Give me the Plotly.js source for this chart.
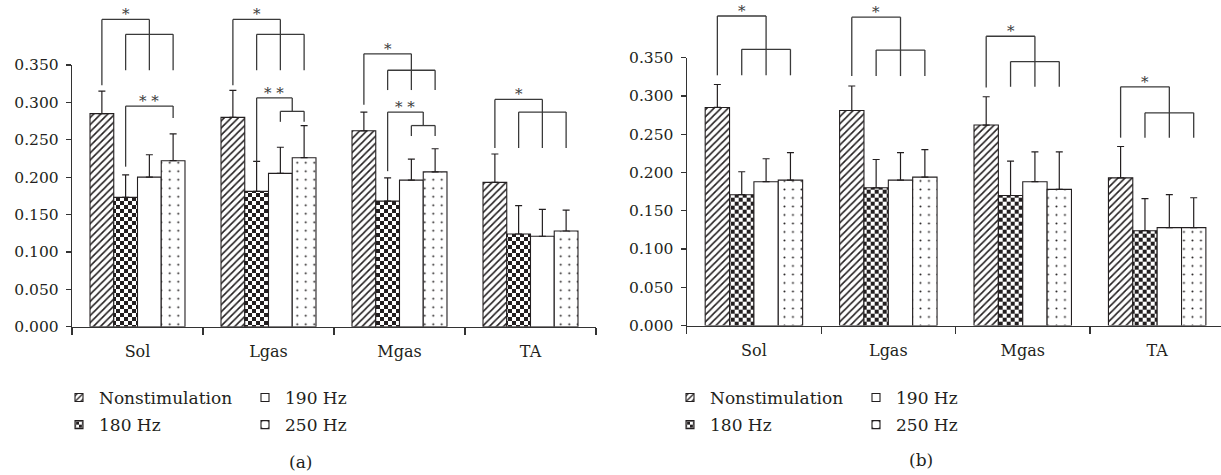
<!DOCTYPE html>
<html>
<head>
<meta charset="utf-8">
<script src="https://cdn.plot.ly/plotly-3.0.1.min.js"></script>
<style>
html,body{margin:0;padding:0;background:#fff;}
#chart{width:1221px;height:475px;}
</style>
</head>
<body>
<div id="chart"></div>
<script>
// ---------- data ----------
const categories = ['Sol', 'Lgas', 'Mgas', 'TA'];
const seriesNames = ['Nonstimulation', '180 Hz', '190 Hz', '250 Hz'];
const yTickVals = [0, 0.05, 0.10, 0.15, 0.20, 0.25, 0.30, 0.35];
const panelLabels = ['(a)', '(b)'];

// panel (a)
const aNonstim = [0.285, 0.280, 0.262, 0.193];
const aNonstimErr = [0.030, 0.036, 0.025, 0.038];
const a180 = [0.173, 0.181, 0.168, 0.124];
const a180Err = [0.030, 0.040, 0.031, 0.038];
const a190 = [0.200, 0.205, 0.196, 0.121];
const a190Err = [0.030, 0.035, 0.028, 0.036];
const a250 = [0.222, 0.226, 0.207, 0.128];
const a250Err = [0.036, 0.043, 0.031, 0.028];

// panel (b)
const bNonstim = [0.285, 0.281, 0.262, 0.193];
const bNonstimErr = [0.030, 0.032, 0.037, 0.041];
const b180 = [0.171, 0.180, 0.170, 0.124];
const b180Err = [0.030, 0.037, 0.045, 0.042];
const b190 = [0.188, 0.190, 0.188, 0.128];
const b190Err = [0.030, 0.036, 0.039, 0.043];
const b250 = [0.190, 0.194, 0.178, 0.128];
const b250Err = [0.036, 0.036, 0.049, 0.039];

// significance brackets (levels in data units)
const aBrackets = [
  {cat: 0, kind: 'oneVsRest', top: 0.411, leg0: 0.323, mid: 0.391, low: 0.343, label: '*'},
  {cat: 0, kind: 'pair', top: 0.295, low1: 0.214, low3: 0.279, label: '* *'},
  {cat: 1, kind: 'oneVsRest', top: 0.411, leg0: 0.323, mid: 0.391, low: 0.343, label: '*'},
  {cat: 1, kind: 'nested', top: 0.306, low1: 0.221, top2: 0.288, low2: 0.274, label: '* *'},
  {cat: 2, kind: 'oneVsRest', top: 0.365, leg0: 0.297, mid: 0.343, low: 0.3165, label: '*'},
  {cat: 2, kind: 'nested', top: 0.287, low1: 0.208, top2: 0.269, low2: 0.255, label: '* *'},
  {cat: 3, kind: 'oneVsRest', top: 0.304, leg0: 0.239, mid: 0.287, low: 0.239, label: '*'}
];
const bBrackets = [
  {cat: 0, kind: 'oneVsRest', top: 0.4045, leg0: 0.327, mid: 0.361, low: 0.327, label: '*'},
  {cat: 1, kind: 'oneVsRest', top: 0.403, leg0: 0.326, mid: 0.360, low: 0.326, label: '*'},
  {cat: 2, kind: 'oneVsRest', top: 0.378, leg0: 0.311, mid: 0.345, low: 0.312, label: '*'},
  {cat: 3, kind: 'oneVsRest', top: 0.312, leg0: 0.2455, mid: 0.278, low: 0.2455, label: '*'}
];

// ---------- styling / layout ----------
const W = 1221, H = 475;
const FONT = 'DejaVu Serif';
const INK = '#231f20';
const BARGAP = 0.275;

const panels = [
  {xDom: [72 / W, 596 / W], xRange: [-0.5, 3.5], yDom: [1 - 326.7 / H, 1 - 65 / H], yRange: [0, 0.35],
   xa: 'x', ya: 'y', uidTag: 'a'},
  {xDom: [686.7 / W, 1], xRange: [-0.5, 3.475], yDom: [1 - 325.6 / H, 1 - 57.7 / H], yRange: [0, 0.35],
   xa: 'x2', ya: 'y2', uidTag: 'b'}
];

const seriesStyle = [
  {color: '#ffffff', pattern: {shape: '/', size: 5, solidity: 0.32, fgcolor: INK, bgcolor: '#ffffff', fillmode: 'replace'}, tag: 'hat'},
  {color: '#ffffff', pattern: {shape: '+', size: 8, solidity: 0.5, fgcolor: INK, bgcolor: '#ffffff', fillmode: 'replace'}, tag: 'chk'},
  {color: '#ffffff', pattern: null, tag: 'wht'},
  {color: '#ffffff', pattern: {shape: '.', size: 8.5, solidity: 0.045, fgcolor: INK, bgcolor: '#ffffff', fillmode: 'replace'}, tag: 'dot'}
];

const panelData = [
  {vals: [aNonstim, a180, a190, a250], errs: [aNonstimErr, a180Err, a190Err, a250Err], brackets: aBrackets},
  {vals: [bNonstim, b180, b190, b250], errs: [bNonstimErr, b180Err, b190Err, b250Err], brackets: bBrackets}
];

const legendIds = [['legend', 'legend', 'legend2', 'legend2'], ['legend3', 'legend3', 'legend4', 'legend4']];

const traces = [];
panelData.forEach((pd, p) => {
  pd.vals.forEach((vals, s) => {
    const st = seriesStyle[s];
    const marker = {color: st.color, line: {color: INK, width: 1.1}};
    if (st.pattern) marker.pattern = st.pattern;
    traces.push({
      type: 'bar',
      name: seriesNames[s],
      x: categories,
      y: vals,
      xaxis: panels[p].xa,
      yaxis: panels[p].ya,
      uid: st.tag + panels[p].uidTag,
      marker: marker,
      legend: legendIds[p][s],
      legendgroup: 'g' + p + s,
      error_y: {type: 'data', symmetric: false, array: pd.errs[s], arrayminus: pd.vals[s].map(() => 0),
                color: INK, thickness: 1.2, width: 3.5},
      hoverinfo: 'skip'
    });
  });
});

// helpers to map data coords to paper coords
function barX(panel, cat, bar) {
  const w = (1 - BARGAP) / 4;
  const xv = cat + (bar - 1.5) * w;
  return panel.xDom[0] + (xv - panel.xRange[0]) / (panel.xRange[1] - panel.xRange[0]) * (panel.xDom[1] - panel.xDom[0]);
}
function py(panel, v) {
  return panel.yDom[0] + (v - panel.yRange[0]) / (panel.yRange[1] - panel.yRange[0]) * (panel.yDom[1] - panel.yDom[0]);
}

const shapes = [];
const annotations = [];
function seg(x0, y0, x1, y1) {
  shapes.push({type: 'line', xref: 'paper', yref: 'paper', x0: x0, y0: y0, x1: x1, y1: y1,
               line: {color: '#3a3a3a', width: 1.3}});
}
function star(x, y, text) {
  annotations.push({xref: 'paper', yref: 'paper', x: x, y: y, text: text, showarrow: false,
                    xanchor: 'center', yanchor: 'bottom', yshift: -6,
                    font: {family: FONT, size: 15, color: '#3a3a3a'}});
}

panelData.forEach((pd, p) => {
  const P = panels[p];
  pd.brackets.forEach(b => {
    const x0 = barX(P, b.cat, 0), x1 = barX(P, b.cat, 1), x2 = barX(P, b.cat, 2), x3 = barX(P, b.cat, 3);
    if (b.kind === 'oneVsRest') {
      seg(x0, py(P, b.top), x2, py(P, b.top));
      seg(x0, py(P, b.top), x0, py(P, b.leg0));
      seg(x2, py(P, b.top), x2, py(P, b.low));
      seg(x1, py(P, b.mid), x3, py(P, b.mid));
      seg(x1, py(P, b.mid), x1, py(P, b.low));
      seg(x3, py(P, b.mid), x3, py(P, b.low));
      star((x0 + x2) / 2, py(P, b.top), b.label);
    } else if (b.kind === 'pair') {
      seg(x1, py(P, b.top), x3, py(P, b.top));
      seg(x1, py(P, b.top), x1, py(P, b.low1));
      seg(x3, py(P, b.top), x3, py(P, b.low3));
      star((x1 + x3) / 2, py(P, b.top), b.label);
    } else if (b.kind === 'nested') {
      const xm = (x2 + x3) / 2;
      seg(x1, py(P, b.top), xm, py(P, b.top));
      seg(x1, py(P, b.top), x1, py(P, b.low1));
      seg(xm, py(P, b.top), xm, py(P, b.top2));
      seg(x2, py(P, b.top2), x3, py(P, b.top2));
      seg(x2, py(P, b.top2), x2, py(P, b.low2));
      seg(x3, py(P, b.top2), x3, py(P, b.low2));
      star((x1 + xm) / 2, py(P, b.top), b.label);
    }
  });
});

// panel labels
annotations.push({xref: 'paper', yref: 'paper', x: 300 / W, y: 1 - 461.5 / H, text: panelLabels[0], showarrow: false,
                  xanchor: 'center', yanchor: 'middle', font: {family: FONT, size: 17, color: INK}});
annotations.push({xref: 'paper', yref: 'paper', x: 921 / W, y: 1 - 460 / H, text: panelLabels[1], showarrow: false,
                  xanchor: 'center', yanchor: 'middle', font: {family: FONT, size: 17, color: INK}});

function xAxis(P, anchor) {
  return {domain: P.xDom, range: P.xRange, anchor: anchor, type: 'category', tickson: 'boundaries',
          ticks: 'outside', ticklen: 7, tickwidth: 1.2, tickcolor: '#333', showline: true, linecolor: '#333', linewidth: 1.2,
          showgrid: false, zeroline: false, fixedrange: true,
          tickfont: {family: FONT, size: 16, color: INK}, ticklabelstandoff: 10};
}
function yAxis(P, anchor) {
  return {domain: P.yDom, range: P.yRange, anchor: anchor, tickvals: yTickVals, tickformat: '.3f',
          ticks: 'outside', ticklen: 5, tickwidth: 1.2, tickcolor: '#333', showline: true, linecolor: '#333', linewidth: 1.2,
          showgrid: false, zeroline: false, fixedrange: true,
          tickfont: {family: FONT, size: 15.5, color: INK}, ticklabelstandoff: 4};
}
function legendAt(xpx, ypx) {
  return {x: xpx / W, y: 1 - ypx / H, xanchor: 'left', yanchor: 'top', orientation: 'v',
          font: {family: FONT, size: 17, color: INK}, bgcolor: 'rgba(0,0,0,0)', borderwidth: 0,
          tracegroupgap: 2, itemwidth: 30, traceorder: 'grouped', itemclick: false, itemdoubleclick: false};
}

const layout = {
  width: W, height: H,
  margin: {l: 0, r: 0, t: 0, b: 0, autoexpand: false},
  paper_bgcolor: '#ffffff', plot_bgcolor: 'rgba(0,0,0,0)',
  barmode: 'group', bargap: BARGAP, bargroupgap: 0,
  showlegend: true,
  xaxis: xAxis(panels[0], 'y'), yaxis: yAxis(panels[0], 'x'),
  xaxis2: xAxis(panels[1], 'y2'), yaxis2: yAxis(panels[1], 'x2'),
  legend: legendAt(59, 380),
  legend2: legendAt(245, 380),
  legend3: legendAt(670, 380),
  legend4: legendAt(856, 380),
  shapes: shapes,
  annotations: annotations
};

function fixDecor(gd) {
  const NS = 'http://www.w3.org/2000/svg';
  gd.querySelectorAll('pattern').forEach(p => {
    if (p.id.indexOf('chk') < 0 || p.getAttribute('data-chk')) return;
    const s = parseFloat(p.getAttribute('width')) || 8;
    while (p.firstChild) p.removeChild(p.firstChild);
    const mk = (x, y, w, h, f) => {
      const r = document.createElementNS(NS, 'rect');
      r.setAttribute('x', x); r.setAttribute('y', y);
      r.setAttribute('width', w); r.setAttribute('height', h);
      r.setAttribute('fill', f);
      p.appendChild(r);
    };
    mk(0, 0, s, s, '#ffffff');
    mk(0, 0, s / 2, s / 2, INK);
    mk(s / 2, s / 2, s / 2, s / 2, INK);
    p.setAttribute('data-chk', '1');
  });
  gd.querySelectorAll('.legendpoints path.legendbar, .legendpoints path.legendundefined').forEach(pa => {
    pa.setAttribute('d', 'M4,4H-4V-4H4Z');
  });
}

const gd = document.getElementById('chart');
Plotly.newPlot(gd, traces, layout, {staticPlot: true, displayModeBar: false}).then(() => {
  fixDecor(gd);
  gd.on && gd.on('plotly_afterplot', () => fixDecor(gd));
});
</script>
</body>
</html>
